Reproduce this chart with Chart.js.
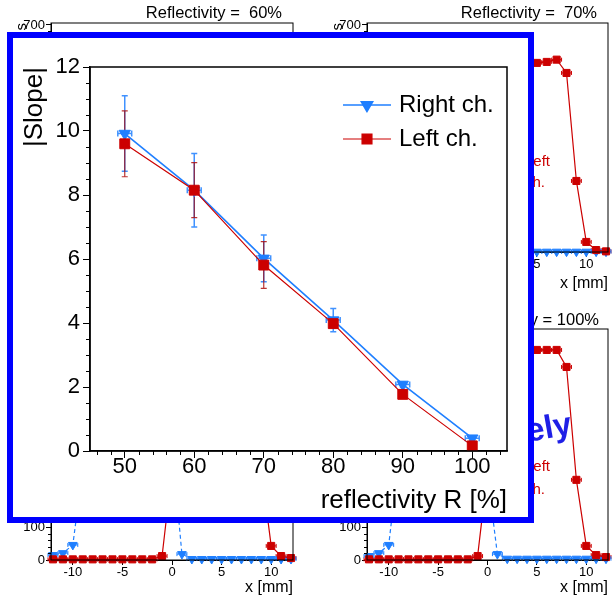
<!DOCTYPE html>
<html>
<head>
<meta charset="utf-8">
<script src="https://cdn.jsdelivr.net/npm/chart.js@4.4.0/dist/chart.umd.min.js"></script>
<style>
  html, body { margin: 0; padding: 0; background: #fff; }
  body { width: 614px; height: 597px; position: relative; overflow: hidden; }
  .panel { position: absolute; }
  .panel canvas, #box canvas { display: block; }
  #box { position: absolute; left: 7px; top: 32px; width: 515px; height: 479px; border: 6px solid #0000ff; background: #fff; }
</style>
</head>
<body>
<div class="panel" style="left:0;top:0"><canvas id="scan60" width="305" height="300"></canvas></div>
<div class="panel" style="left:316px;top:0"><canvas id="scan70" width="298" height="300"></canvas></div>
<div class="panel" style="left:0;top:300px"><canvas id="scan90" width="305" height="297"></canvas></div>
<div class="panel" style="left:316px;top:300px"><canvas id="scan100" width="298" height="297"></canvas></div>
<div id="box"><canvas id="slopeChart" width="515" height="479"></canvas></div>
<script>
Chart.defaults.font.family = '"Liberation Sans", Arial, Helvetica, sans-serif';
Chart.defaults.color = '#000';

/* slope vs reflectivity */
const reflectivity = [50, 60, 70, 80, 90, 100];
const slopeRight = [9.92, 8.15, 6.02, 4.09, 2.08, 0.40];
const slopeRightErr = [1.18, 1.15, 0.73, 0.36, 0.08, 0.08];
const slopeLeft = [9.60, 8.15, 5.81, 3.98, 1.77, 0.16];
const slopeLeftErr = [1.03, 0.86, 0.73, 0.10, 0.06, 0.06];
const reflTicks = [50, 60, 70, 80, 90, 100];
const slopeTicks = [0, 2, 4, 6, 8, 10, 12];

/* position scans behind (x in mm) */
const scanX = [-12, -11, -10, -9, -8, -7, -6, -5, -4, -3, -2, -1, 0, 1, 2, 3, 4, 5, 6, 7, 8, 9, 10, 11, 12];
const scanTicksX = [-10, -5, 0, 5, 10];
const scanTicksY = [0, 100, 200, 300, 400, 500, 600, 700];
const left70 = [2, 2, 2, 2, 2, 2, 2, 2, 2, 2, 2, 12, 270, 560, 580, 585, 588, 583, 586, 593, 552, 219, 31, 6, 2];
const right70 = [12, 20, 45, 290, 560, 585, 590, 588, 585, 580, 560, 500, 260, 16, 1, 1, 1, 1, 1, 1, 1, 1, 1, 1, 1];
const left90 = [2, 2, 2, 2, 2, 2, 2, 2, 2, 2, 2, 12, 275, 590, 615, 620, 620, 620, 620, 620, 590, 280, 43, 12, 6];
const right90 = [15, 21, 46, 280, 600, 620, 620, 620, 620, 620, 610, 590, 350, 18, 3, 3, 3, 3, 3, 3, 3, 3, 3, 3, 3];
const left100 = [2, 2, 2, 2, 2, 2, 2, 2, 2, 2, 2, 12, 270, 620, 640, 644, 644, 642, 642, 642, 590, 245, 43, 15, 9];
const right100 = [12, 21, 46, 307, 620, 645, 650, 650, 650, 645, 620, 590, 260, 18, 4, 4, 4, 4, 4, 4, 4, 4, 4, 4, 4];

const RED = '#cc0000';
const BLUE = '#1f7fff';

// box round the plot area + short minor ticks
const frame = {
  id: 'frame',
  afterDraw(chart, args, opts) {
    const { ctx, chartArea: a, scales } = chart;
    ctx.save();
    ctx.strokeStyle = '#000';
    ctx.lineWidth = opts.lw || 1;
    ctx.strokeRect(a.left, a.top, a.right - a.left, a.bottom - a.top);
    ctx.lineWidth = 1;
    ctx.beginPath();
    (opts.minorX || []).forEach((v) => {
      const px = Math.round(scales.x.getPixelForValue(v)) + 0.5;
      ctx.moveTo(px, a.bottom);
      ctx.lineTo(px, a.bottom + opts.minorLen);
    });
    (opts.minorY || []).forEach((v) => {
      const py = Math.round(scales.y.getPixelForValue(v)) + 0.5;
      ctx.moveTo(a.left, py);
      ctx.lineTo(a.left - opts.minorLen, py);
    });
    ctx.stroke();
    ctx.restore();
  },
};

const errorBars = {
  id: 'errorBars',
  beforeDatasetsDraw(chart) {
    const { ctx, scales: { x, y } } = chart;
    chart.data.datasets.forEach((ds) => {
      ctx.save();
      ctx.strokeStyle = ds.errColor || ds.borderColor;
      ctx.lineWidth = ds.errWidth || 1;
      const cap = ds.errCap || 3;
      ds.data.forEach((p, k) => {
        const px = x.getPixelForValue(p.x);
        const py = y.getPixelForValue(p.y);
        ctx.beginPath();
        if (ds.errY) {
          const t = y.getPixelForValue(p.y + ds.errY[k]);
          const b = y.getPixelForValue(p.y - ds.errY[k]);
          ctx.moveTo(px, t); ctx.lineTo(px, b);
          ctx.moveTo(px - cap, t); ctx.lineTo(px + cap, t);
          ctx.moveTo(px - cap, b); ctx.lineTo(px + cap, b);
        }
        if (ds.errX) {
          const l = x.getPixelForValue(p.x - ds.errX);
          const r = x.getPixelForValue(p.x + ds.errX);
          ctx.moveTo(l, py); ctx.lineTo(r, py);
          ctx.moveTo(l, py - cap); ctx.lineTo(l, py + cap);
          ctx.moveTo(r, py - cap); ctx.lineTo(r, py + cap);
        }
        ctx.stroke();
      });
      ctx.restore();
    });
  },
};

// free texts: panel titles, bits of legends peeking out
const notes = {
  id: 'notes',
  afterDraw(chart, args, opts) {
    const ctx = chart.ctx;
    (opts.texts || []).forEach((n) => {
      ctx.save();
      ctx.fillStyle = n.color || '#000';
      ctx.font = (n.bold ? 'bold ' : '') + n.size + 'px ' + Chart.defaults.font.family;
      ctx.textAlign = n.align || 'left';
      ctx.textBaseline = n.base || 'middle';
      ctx.translate(n.x, n.y);
      if (n.rot) ctx.rotate(n.rot * Math.PI / 180);
      ctx.fillText(n.t, 0, 0);
      ctx.restore();
    });
  },
};

// legend with line + marker, ROOT style
const keyBox = {
  id: 'keyBox',
  afterDraw(chart, args, opts) {
    const ctx = chart.ctx;
    opts.items.forEach((it) => {
      const ds = chart.data.datasets[it.ds];
      ctx.save();
      ctx.strokeStyle = ds.borderColor;
      ctx.fillStyle = ds.backgroundColor;
      ctx.lineWidth = ds.borderWidth;
      ctx.beginPath();
      ctx.moveTo(opts.x1, it.y);
      ctx.lineTo(opts.x2, it.y);
      ctx.stroke();
      Chart.helpers.drawPoint(ctx, {
        pointStyle: ds.pointStyle, rotation: ds.pointRotation || 0,
        radius: ds.pointRadius, borderWidth: 1,
      }, (opts.x1 + opts.x2) / 2, it.y);
      ctx.fillStyle = '#000';
      ctx.font = opts.size + 'px ' + Chart.defaults.font.family;
      ctx.textBaseline = 'middle';
      ctx.fillText(ds.label, opts.tx, it.y);
      ctx.restore();
    });
  },
};

const minorScanY = [];
for (let v = 20; v < 706; v += 20) if (v % 100) minorScanY.push(v);

function scanSets(left, right) {
  if (!left) return [];
  return [
    {
      label: 'Left ch.', data: scanX.map((x, i) => ({ x: x, y: left[i] })),
      borderColor: RED, backgroundColor: RED, borderWidth: 1.2,
      pointStyle: 'rect', pointRadius: 5, pointBorderWidth: 1,
      errX: 0.5, errCap: 2, clip: false, order: 0,
    },
    {
      label: 'Right ch.', data: scanX.map((x, i) => ({ x: x, y: right[i] })),
      borderColor: BLUE, backgroundColor: BLUE, borderWidth: 1.2, borderDash: [4, 3],
      pointStyle: 'triangle', pointRotation: 180, pointRadius: 5, pointBorderWidth: 1,
      errX: 0.5, errCap: 2, clip: false, order: 1,
    },
  ];
}

function scanChart(id, o) {
  return new Chart(document.getElementById(id), {
    type: 'line',
    data: { datasets: scanSets(o.left, o.right) },
    options: {
      responsive: false, animation: false, devicePixelRatio: 1,
      layout: { padding: { top: o.top, right: o.right2, left: 0, bottom: 0 } },
      elements: { line: { tension: 0 } },
      scales: {
        x: {
          type: 'linear', min: -12.2, max: 12.2,
          afterBuildTicks: (s) => { s.ticks = scanTicksX.map((v) => ({ value: v })); },
          afterFit: (s) => { s.height = o.xh; },
          grid: { drawOnChartArea: false, tickLength: 5, color: '#000' },
          border: { color: '#000' },
          ticks: { autoSkip: false, maxRotation: 0, padding: 1, font: { size: 13, lineHeight: 1 } },
          title: { display: true, text: 'x [mm]', align: 'end', font: { size: 16 }, padding: { top: 0, bottom: o.tb } },
        },
        y: {
          type: 'linear', min: 0, max: 706,
          afterBuildTicks: (s) => { s.ticks = scanTicksY.map((v) => ({ value: v })); },
          afterFit: (s) => { s.width = 51; },
          grid: { drawOnChartArea: false, tickLength: 5, color: '#000' },
          border: { color: '#000' },
          ticks: { autoSkip: false, padding: 1, font: { size: 13 } },
          title: { display: true, text: 's', align: 'end', font: { size: 15 }, padding: { top: 13, bottom: 0 } },
        },
      },
      plugins: {
        legend: { display: false },
        tooltip: { enabled: false },
        frame: { lw: 1, minorY: minorScanY, minorLen: 3 },
        notes: { texts: o.texts },
      },
    },
    plugins: [frame, errorBars, notes],
  });
}

scanChart('scan60', {
  top: 23, right2: 12, xh: 48, tb: 7,
  texts: [{ t: 'Reflectivity =  60%', x: 282, y: 13, size: 16.5, align: 'right' }],
});
scanChart('scan70', {
  left: left70, right: right70, top: 23, right2: 5, xh: 48, tb: 7,
  texts: [
    { t: 'Reflectivity =  70%', x: 281, y: 13, size: 16.5, align: 'right' },
    { t: 'Left', x: 209, y: 162, size: 15, color: RED },
    { t: 'ch.', x: 209, y: 183, size: 15, color: RED },
  ],
});
scanChart('scan90', {
  left: left90, right: right90, top: 29, right2: 12, xh: 37, tb: 0,
  texts: [{ t: 'Reflectivity =  90%', x: 282, y: 20, size: 16.5, align: 'right' }],
});
scanChart('scan100', {
  left: left100, right: right100, top: 29, right2: 5, xh: 37, tb: 0,
  texts: [
    { t: 'Reflectivity = 100%', x: 283, y: 20, size: 16.5, align: 'right' },
    { t: 'ely', x: 212, y: 142, size: 33, bold: true, color: '#1f1fe6', base: 'alphabetic', rot: -10 },
    { t: 'Left', x: 209, y: 167, size: 15, color: RED },
    { t: 'ch.', x: 209, y: 190, size: 15, color: RED },
  ],
});

const minorRefl = [];
for (let v = 46; v <= 104; v += 2) if (v % 10) minorRefl.push(v);
const minorSlope = [];
for (let v = 0.5; v < 12; v += 0.5) if (v % 2) minorSlope.push(v);

new Chart(document.getElementById('slopeChart'), {
  type: 'line',
  data: {
    datasets: [
      {
        label: 'Right ch.',
        data: reflectivity.map((r, i) => ({ x: r, y: slopeRight[i] })),
        errY: slopeRightErr, errX: 1, errColor: 'rgba(31,127,255,0.85)', errWidth: 1.5,
        borderColor: BLUE, backgroundColor: BLUE, borderWidth: 1.6,
        pointStyle: 'triangle', pointRotation: 180, pointRadius: 6.5, pointBorderWidth: 1,
        order: 1,
      },
      {
        label: 'Left ch.',
        data: reflectivity.map((r, i) => ({ x: r, y: slopeLeft[i] })),
        errY: slopeLeftErr, errColor: 'rgba(170,0,0,0.8)', errWidth: 1.2,
        borderColor: RED, backgroundColor: RED, borderWidth: 1.2,
        pointStyle: 'rect', pointRadius: 7, pointBorderWidth: 1,
        order: 0,
      },
    ],
  },
  options: {
    responsive: false, animation: false, devicePixelRatio: 1,
    layout: { padding: { top: 29, right: 21, left: 0, bottom: 0 } },
    elements: { line: { tension: 0 } },
    scales: {
      x: {
        type: 'linear', min: 45, max: 105,
        afterBuildTicks: (s) => { s.ticks = reflTicks.map((v) => ({ value: v })); },
        afterFit: (s) => { s.height = 66; },
        grid: { drawOnChartArea: false, tickLength: 7, color: '#000' },
        border: { color: '#000', width: 1.5 },
        ticks: { autoSkip: false, maxRotation: 0, padding: -2, font: { size: 22, lineHeight: 1 } },
        title: { display: true, text: 'reflectivity R [%]', align: 'end', font: { size: 26 }, padding: { top: 0, bottom: 1 } },
      },
      y: {
        type: 'linear', min: 0, max: 12,
        afterBuildTicks: (s) => { s.ticks = slopeTicks.map((v) => ({ value: v })); },
        afterFit: (s) => { s.width = 77; },
        grid: { drawOnChartArea: false, tickLength: 7, color: '#000' },
        border: { color: '#000', width: 1.5 },
        ticks: { autoSkip: false, padding: 3, font: { size: 22 } },
        title: { display: true, text: '|Slope|', align: 'end', font: { size: 26 }, padding: { top: 6, bottom: 0 } },
      },
    },
    plugins: {
      legend: { display: false },
      tooltip: { enabled: false },
      frame: { lw: 1.5, minorX: minorRefl, minorY: minorSlope, minorLen: 4 },
      keyBox: { x1: 330, x2: 378, tx: 386, size: 24, items: [{ ds: 0, y: 67 }, { ds: 1, y: 101 }] },
    },
  },
  plugins: [frame, errorBars, keyBox],
});
</script>
</body>
</html>
